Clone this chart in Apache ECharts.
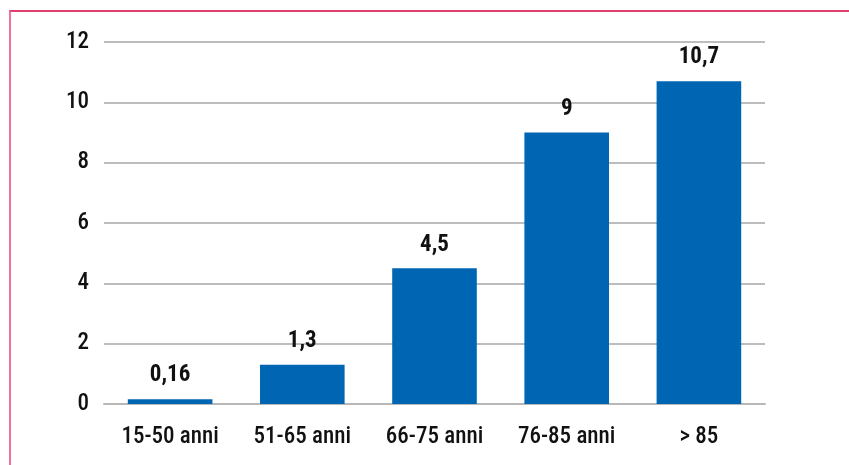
<!DOCTYPE html>
<html>
<head>
<meta charset="utf-8">
<script src="https://cdn.jsdelivr.net/npm/echarts@6/dist/echarts.min.js"></script>
<style>
  html, body { margin: 0; padding: 0; background: #fff; }
  #frame { position: absolute; left: 9px; top: 10px; width: 840px; height: 455px;
           border-left: 2px solid #ee6fa0; border-top: 2px solid #e0406e; box-sizing: border-box; }
  #chart { position: absolute; left: 0; top: 0; width: 849px; height: 465px; }
</style>
</head>
<body>
<div id="frame"></div>
<div id="chart"></div>
<script>
// Age groups and their values
const categories = ['15-50 anni', '51-65 anni', '66-75 anni', '76-85 anni', '> 85'];
const values = [0.16, 1.3, 4.5, 9, 10.7];
const valueLabels = ['0,16', '1,3', '4,5', '9', '10,7'];

const FONT = "'Liberation Sans Narrow', 'Arial Narrow', 'Roboto Condensed', Arial, sans-serif";

const chart = echarts.init(document.getElementById('chart'), null, { renderer: 'canvas' });
chart.setOption({
  animation: false,
  grid: { left: 104, right: 84, top: 42, bottom: 61 },
  xAxis: {
    type: 'category',
    data: categories,
    axisLine: { show: true, lineStyle: { color: '#b8b8b8', width: 2 } },
    axisTick: { show: false },
    axisLabel: { color: '#111', fontSize: 23, fontWeight: 500, fontFamily: FONT, margin: 22 }
  },
  yAxis: {
    type: 'value',
    min: 0, max: 12, interval: 2,
    axisLine: { show: false },
    axisTick: { show: false },
    splitLine: { lineStyle: { color: '#bdbdbd', width: 2 } },
    axisLabel: { color: '#111', fontSize: 23, fontWeight: 500, fontFamily: FONT, margin: 15 }
  },
  series: [{
    type: 'bar',
    data: values,
    barWidth: '64%',
    itemStyle: { color: '#0066b3' },
    label: {
      show: true,
      position: 'top',
      distance: 12,
      color: '#111',
      fontSize: 23,
      fontWeight: 'bold',
      fontFamily: FONT,
      formatter: p => valueLabels[p.dataIndex]
    }
  }]
});
</script>
</body>
</html>
